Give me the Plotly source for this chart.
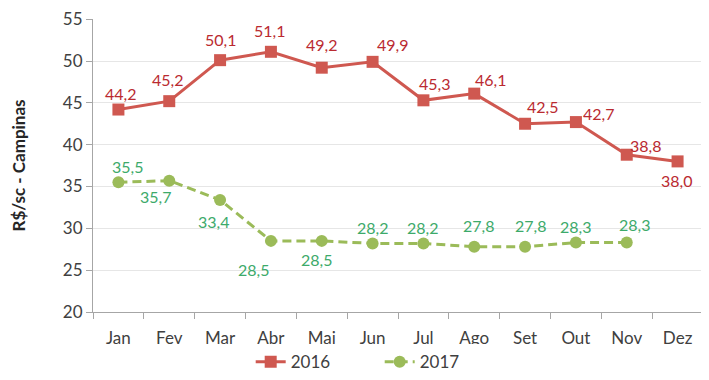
import plotly.graph_objects as go

months = ["Jan", "Fev", "Mar", "Abr", "Mai", "Jun", "Jul", "Ago", "Set", "Out", "Nov", "Dez"]
y2016 = [44.2, 45.2, 50.1, 51.1, 49.2, 49.9, 45.3, 46.1, 42.5, 42.7, 38.8, 38.0]
y2017 = [35.5, 35.7, 33.4, 28.5, 28.5, 28.2, 28.2, 27.8, 27.8, 28.3, 28.3, None]
yticks = [20, 25, 30, 35, 40, 45, 50, 55]

# label offsets (px) relative to markers
off2016 = [(2, 16), (-2, 22), (0, 21), (-1, 21), (0, 23), (20, 17), (11, 17), (16, 14), (17, 17), (23, 9), (19, 9), (-1, -19)]
off2017 = [(9, 16), (-14, -16), (-7, -22), (-17, -29), (-5, -19), (0, 16), (-1, 16), (4, 21), (5, 21), (0, 16), (8, 18)]

FONT = "Lato, 'Open Sans', sans-serif"
C16_LINE = "#CF5850"
C16_TXT = "#BA2A30"
C17_LINE = "#9BBB59"
C17_TXT = "#3DAA6A"

def fmt(v):
    return f"{v:.1f}".replace(".", ",")

fig = go.Figure()
fig.add_trace(go.Scatter(
    x=months, y=y2016, name="2016", mode="lines+markers",
    line=dict(color=C16_LINE, width=3),
    marker=dict(symbol="square", size=12, color=C16_LINE),
))
fig.add_trace(go.Scatter(
    x=months, y=y2017, name="2017", mode="lines+markers",
    line=dict(color=C17_LINE, width=3, dash="9px,5px"),
    marker=dict(symbol="circle", size=12, color=C17_LINE),
))

annotations = []
for m, v, (dx, dy) in zip(months, y2016, off2016):
    annotations.append(dict(x=m, y=v, text=fmt(v), showarrow=False, xshift=dx, yshift=dy,
                            font=dict(family=FONT, size=16, color=C16_TXT)))
for m, v, (dx, dy) in zip(months, y2017, off2017):
    if v is None:
        continue
    annotations.append(dict(x=m, y=v, text=fmt(v), showarrow=False, xshift=dx, yshift=dy,
                            font=dict(family=FONT, size=16, color=C17_TXT)))

fig.update_layout(
    width=701, height=372,
    margin=dict(l=85, r=6, t=11, b=68, autoexpand=False),
    paper_bgcolor="white", plot_bgcolor="white",
    font=dict(family=FONT, size=17, color="#404040"),
    showlegend=True,
    legend=dict(orientation="h", x=0.47, xanchor="center",
                y=0.048, yref="container", yanchor="middle",
                font=dict(family=FONT, size=17, color="#404040"),
                entrywidth=84, entrywidthmode="pixels", tracegroupgap=0),
    annotations=annotations,
    xaxis=dict(
        type="category", categoryorder="array", categoryarray=months,
        range=[-0.5, 11.5], automargin=False,
        showline=True, linecolor="#A6A6A6", linewidth=1,
        ticks="outside", tickson="boundaries", ticklen=6, tickcolor="#A6A6A6",
        showgrid=False, ticklabelstandoff=11,
        tickfont=dict(family=FONT, size=17, color="#404040"),
    ),
    yaxis=dict(
        range=[20, 55.02], tickvals=yticks, ticktext=[str(t) for t in yticks],
        automargin=False,
        showline=True, linecolor="#A6A6A6", linewidth=1,
        ticks="outside", ticklen=6, tickcolor="#A6A6A6",
        showgrid=True, gridcolor="#E6E6E6", gridwidth=1, zeroline=False,
        tickfont=dict(family=FONT, size=17, color="#404040"),
        title=dict(text="<b>R$/sc - Campinas</b>", font=dict(family=FONT, size=17, color="#262626"), standoff=36),
    ),
)

fig.write_html("out.html")
